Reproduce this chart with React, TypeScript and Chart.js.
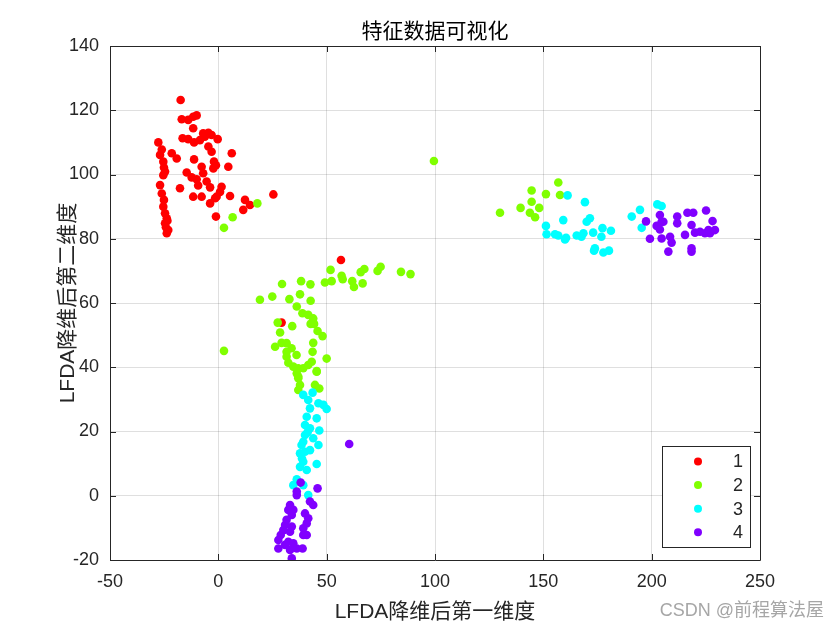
import React, { useEffect, useRef } from "react";
import { Chart, registerables } from "chart.js";

Chart.register(...registerables);

const TITLE = "特征数据可视化";
const X_LABEL = "LFDA降维后第一维度";
const Y_LABEL = "LFDA降维后第二维度";
const WATERMARK = "CSDN @前程算法屋";
const CLASS_NAMES = ["1", "2", "3", "4"];
const CLASS_COLORS = ["#ff0000", "#80ff00", "#00ffff", "#8000ff"];
const X_RANGE = [-50, 250, 50];
const Y_RANGE = [-20, 140, 20];

const class1X = [-17.4, -16.9, -13.9, -11.6, -10, -11.6, -7, -4.6, -3.1, -16.5, -13.9, -11.2, -8.5, -0.3, -27.7, -26.1, -26.9, -25.4, -25.1, -24.6, -25.4, -21.5, -19.2, -4.6, -3.1, -2, -1.1, -2.3, 6.2, 4.6, -11.2, -7.7, -7, -14.6, -12.3, -10, -5.4, -3.8, -17.7, -26.9, 1.5, 0.8, -0.8, -1.5, -11.6, -7.7, -3.8, 5.4, 12.3, 14.6, 11.5, 25.4, -1.1, -26.1, -25.1, -25.4, -24.6, -23.8, -24.6, -23.1, -23.8, -24.2, -23.5, -6.2, -9.3, 56.6, 29.2];
const class1Y = [123.2, 117.2, 117, 118, 118.4, 114.4, 112.8, 113, 112.3, 111.3, 111, 110, 110.7, 111, 110, 107.8, 106.1, 104, 102.2, 100.9, 99.8, 106.6, 105, 108.7, 107.1, 104, 102.9, 101.9, 106.6, 102.4, 104.7, 102.4, 100.4, 100.6, 99.1, 98.5, 97.8, 96, 95.7, 96.7, 96.2, 94.6, 93.1, 92.6, 93.1, 93.1, 91, 93.3, 92.1, 90.5, 89, 93.8, 86.9, 94.1, 92.1, 90, 87.9, 86.4, 84.8, 82.7, 81.7, 83.6, 85.6, 111.8, 96.6, 73.4, 53.9];

const class2X = [18, 6.6, 2.6, 99.5, 2.6, 19.2, 24.9, 29.4, 32.8, 38.2, 37.7, 42.5, 42.6, 51.8, 49.2, 52.3, 56.9, 57.4, 61.8, 62.6, 65.7, 67.4, 66.6, 73.5, 74.9, 84.3, 88.7, 36.2, 38.8, 41.5, 43.8, 44.2, 42.6, 27.4, 28.5, 34.1, 45.8, 48.1, 26.2, 29.2, 31.5, 33.8, 31.5, 36.1, 31.5, 32.3, 34.6, 36.9, 39.2, 41.5, 43.1, 43.5, 43.8, 45.4, 50, 36.9, 36.2, 45.4, 36.9, 37.7, 36.9, 44.6, 46.6, 130, 139.5, 144.6, 144.6, 143.8, 146.2, 148.1, 151.2, 156.9, 157.7];
const class2Y = [91, 86.7, 83.4, 104.2, 45.1, 61, 62, 65.9, 61.2, 66.8, 62.7, 65.8, 60.7, 70.3, 66.4, 66.8, 68.5, 67.4, 66.8, 65, 69.6, 70.6, 66.1, 70, 71.3, 69.7, 69, 58.9, 56.8, 56.3, 55.2, 53.5, 53.5, 53.9, 50.8, 52.8, 51.3, 49.7, 46.4, 47.6, 47.5, 45.9, 44.8, 43.8, 43.3, 41.4, 40.2, 39.7, 39.7, 40.7, 41.7, 44.8, 47.6, 38.8, 42.7, 37.1, 38.1, 38.6, 36.6, 34.5, 32.9, 34.5, 33.4, 88.1, 89.6, 95, 91.5, 88.1, 86.7, 89.6, 93.9, 97.5, 93.6];

const class3X = [39.2, 43.5, 41.5, 46.2, 48.5, 50, 42.3, 40.8, 45.4, 40, 42.3, 46.6, 40, 43.8, 46.2, 39.2, 38.4, 42.3, 37.7, 40, 39.2, 45.4, 37.7, 40.8, 36.2, 34.6, 39.2, 41.5, 41.2, 38.6, 161.2, 169.2, 159.2, 171.5, 170, 151.2, 151.5, 155.4, 156.9, 160.5, 160, 165.4, 167.6, 168.5, 173, 177.3, 181.2, 176.8, 173.8, 173.4, 177.7, 180.3, 190.8, 194.6, 195.4, 202.6, 204.6];
const class3Y = [31.4, 32.1, 29.8, 28.8, 28.3, 27, 27.2, 24.6, 24.1, 22, 21, 20.3, 18.9, 17.9, 15.8, 16.8, 15.8, 14.2, 13.2, 13.7, 10.6, 9.9, 9, 8, 5.1, 3.3, 3.3, 0.2, 19.8, 11.6, 93.5, 91.4, 85.8, 86.4, 85.3, 84, 81.4, 81.4, 81, 80.3, 79.8, 81, 80.6, 81.7, 81.9, 83.3, 82.5, 80.6, 77, 76.3, 75.7, 76.3, 86.9, 89, 83.4, 90.7, 90.2];

const class4X = [60.4, 38, 45.8, 36.2, 36.2, 42.3, 43.8, 33.1, 32.3, 33.9, 31.5, 30.8, 30, 28.8, 27.7, 27.7, 40, 41.5, 40.8, 39.2, 39.2, 40.8, 34.6, 33.9, 33.1, 32.3, 30.8, 34.6, 36.2, 38.9, 33.1, 33.9, 197.4, 203.8, 204.6, 205.4, 202.3, 203.8, 199.2, 204.6, 208.5, 209.2, 207.7, 211.8, 211.8, 215.4, 216.5, 219.2, 225.1, 218.4, 218.4, 218.4, 220, 222.3, 224.6, 226.2, 228.1, 229.2, 226.9];
const class4Y = [16.1, 4.1, 2.3, 1.3, 0.2, -1.8, -2.9, -2.9, -4.4, -6, -7.5, -9.1, -10.7, -12.2, -13.8, -16.4, -5.5, -7, -8.6, -10.1, -12.2, -12.2, -4.4, -9.6, -11.2, -14.3, -15.3, -14.8, -16.4, -16.4, -16.9, -19.5, 85.4, 87.4, 85.3, 85.3, 84, 82.9, 80, 80.1, 80.6, 78.8, 76, 86.9, 84.8, 81.2, 88.1, 88.1, 88.8, 84.3, 77, 76, 81.9, 82.2, 81.7, 82.7, 85.5, 82.7, 81.7];

const CLASS_X = [class1X, class2X, class3X, class4X];
const CLASS_Y = [class1Y, class2Y, class3Y, class4Y];

const FONT = "'Liberation Sans', Arial, 'Noto Sans CJK SC', sans-serif";
const AXIS_COLOR = "#262626";

const decorPlugin = {
  id: "decor",
  afterDatasetsDraw(chart: any) {
    const { ctx, chartArea } = chart;
    const { left, right, top, bottom } = chartArea;
    const xs = chart.scales.x;
    const ys = chart.scales.y;
    ctx.save();
    ctx.strokeStyle = AXIS_COLOR;
    ctx.lineWidth = 1;
    ctx.beginPath();
    ctx.rect(Math.round(left) + 0.5, Math.round(top) + 0.5, Math.round(right - left), Math.round(bottom - top));
    ctx.stroke();
    const tl = 6;
    ctx.beginPath();
    xs.ticks.forEach((t: any) => {
      const px = Math.round(xs.getPixelForValue(t.value)) + 0.5;
      ctx.moveTo(px, bottom);
      ctx.lineTo(px, bottom - tl);
      ctx.moveTo(px, top);
      ctx.lineTo(px, top + tl);
    });
    ys.ticks.forEach((t: any) => {
      const py = Math.round(ys.getPixelForValue(t.value)) + 0.5;
      ctx.moveTo(left, py);
      ctx.lineTo(left + tl, py);
      ctx.moveTo(right, py);
      ctx.lineTo(right - tl, py);
    });
    ctx.stroke();

    const cx = (left + right) / 2;
    ctx.fillStyle = "#000000";
    ctx.textAlign = "center";
    ctx.textBaseline = "middle";
    ctx.font = `21px ${FONT}`;
    ctx.fillText(TITLE, cx, 32);
    ctx.fillStyle = AXIS_COLOR;
    ctx.fillText(X_LABEL, cx, 612);
    ctx.save();
    ctx.translate(68, (top + bottom) / 2);
    ctx.rotate(-Math.PI / 2);
    ctx.fillText(Y_LABEL, 0, 0);
    ctx.restore();

    ctx.fillStyle = "#a6a6a6";
    ctx.textAlign = "right";
    ctx.font = `18px ${FONT}`;
    ctx.fillText(WATERMARK, 824, 611);

    const bw = 88;
    const bh = 101;
    const bx = Math.round(right - 10 - bw) + 0.5;
    const by = Math.round(bottom - 13 - bh) + 0.5;
    ctx.fillStyle = "#ffffff";
    ctx.fillRect(bx, by, bw, bh);
    ctx.strokeStyle = AXIS_COLOR;
    ctx.strokeRect(bx, by, bw, bh);
    ctx.font = `18px ${FONT}`;
    ctx.textAlign = "center";
    CLASS_NAMES.forEach((name, i) => {
      const ry = by + 15 + i * 23.6;
      ctx.fillStyle = CLASS_COLORS[i];
      ctx.beginPath();
      ctx.arc(bx + 35.5, ry, 4, 0, Math.PI * 2);
      ctx.fill();
      ctx.fillStyle = AXIS_COLOR;
      ctx.fillText(name, bx + 75.5, ry + 1);
    });
    ctx.restore();
  },
};

export default function App() {
  const ref = useRef<HTMLCanvasElement | null>(null);
  useEffect(() => {
    if (!ref.current) return;
    const datasets = CLASS_NAMES.map((name, i) => ({
      label: name,
      data: CLASS_X[i].map((x, j) => ({ x, y: CLASS_Y[i][j] })),
      backgroundColor: CLASS_COLORS[i],
      borderWidth: 0,
      pointRadius: 4.3,
      pointHoverRadius: 4.3,
      order: CLASS_NAMES.length - i,
    }));
    const chart = new Chart(ref.current, {
      type: "scatter",
      data: { datasets },
      options: {
        animation: false,
        responsive: false,
        events: [],
        layout: { padding: { top: 46, right: 80, left: 0, bottom: 0 } },
        plugins: { legend: { display: false }, tooltip: { enabled: false }, title: { display: false } },
        scales: {
          x: {
            type: "linear",
            min: X_RANGE[0],
            max: X_RANGE[1],
            afterFit: (s: any) => { s.height = 70; },
            ticks: { stepSize: X_RANGE[2], color: AXIS_COLOR, font: { family: FONT, size: 18 }, padding: 11, maxRotation: 0 },
            grid: { color: "rgba(38,38,38,0.15)", drawTicks: false },
            border: { display: false },
          },
          y: {
            type: "linear",
            min: Y_RANGE[0],
            max: Y_RANGE[1],
            afterFit: (s: any) => { s.width = 110; },
            ticks: { stepSize: Y_RANGE[2], color: AXIS_COLOR, font: { family: FONT, size: 18 }, padding: 11 },
            grid: { color: "rgba(38,38,38,0.15)", drawTicks: false },
            border: { display: false },
          },
        },
      },
      plugins: [decorPlugin],
    });
    return () => chart.destroy();
  }, []);
  return (
    <div style={{ position: "absolute", left: 0, top: 0, width: 840, height: 630, background: "#ffffff" }}>
      <canvas ref={ref} width={840} height={630} style={{ display: "block" }} />
    </div>
  );
}
